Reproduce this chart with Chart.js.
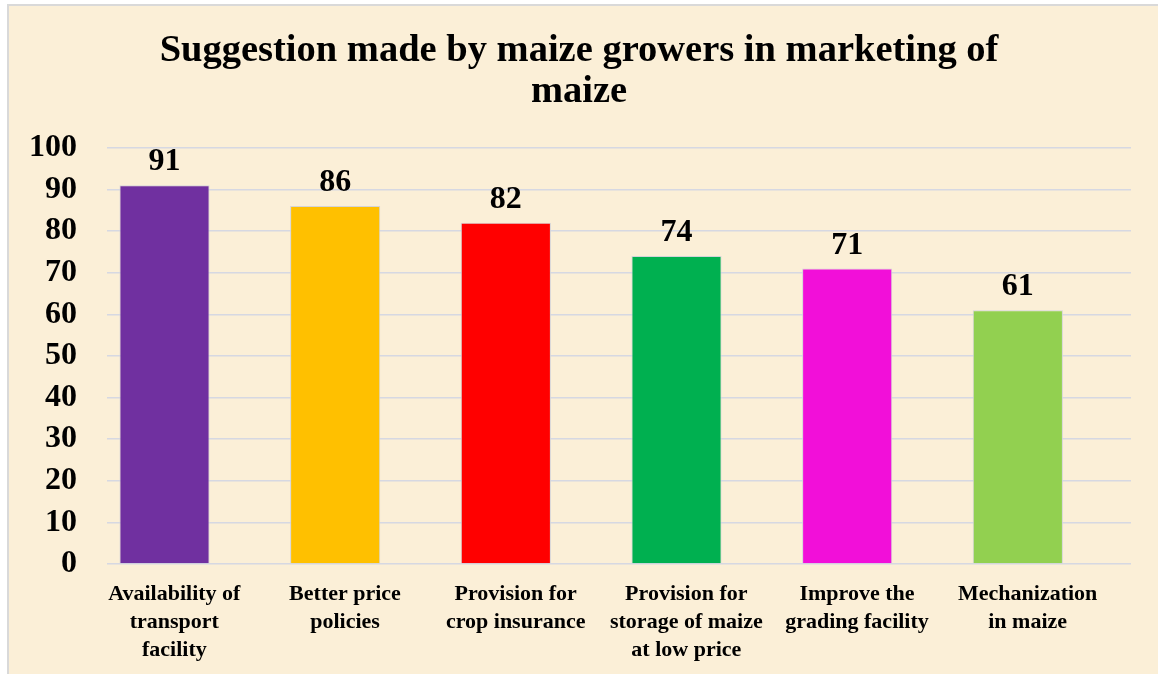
<!DOCTYPE html>
<html>
<head>
<meta charset="utf-8">
<script src="https://cdn.jsdelivr.net/npm/chart.js@4/dist/chart.umd.min.js"></script>
<style>
  html, body { margin: 0; padding: 0; background: #ffffff; }
  #wrap { position: absolute; left: 0; top: 0; width: 1158px; height: 674px; }
</style>
</head>
<body>
<div id="wrap"><canvas id="c" width="1158" height="674"></canvas></div>
<script>
// ---- Data ----
const categories = [
  ["Availability of", "transport", "facility"],
  ["Better price", "policies"],
  ["Provision for", "crop insurance"],
  ["Provision for", "storage of maize", "at low price"],
  ["Improve the", "grading facility"],
  ["Mechanization", "in maize"]
];
const values = [91, 86, 82, 74, 71, 61];
const spacerValues = [null, null, null, null, null, null];
const barColors = ["#7030a0", "#ffc000", "#ff0000", "#00b050", "#f20fd9", "#92d050"];
const yTicks = { min: 0, max: 100, step: 10 };
const titleLines = ["Suggestion made by maize growers in marketing of", "maize"];

const FONT = "'Liberation Serif', 'Times New Roman', Times, serif";

const frameBg = {
  id: 'frameBg',
  beforeDraw(chart) {
    const ctx = chart.ctx;
    ctx.save();
    ctx.fillStyle = '#ffffff';
    ctx.fillRect(0, 0, chart.width, chart.height);
    ctx.fillStyle = '#fbefd7';
    ctx.fillRect(8, 6, chart.width - 8, chart.height - 6);
    ctx.strokeStyle = '#d9d9d9';
    ctx.lineWidth = 2;
    ctx.beginPath();
    ctx.moveTo(8, chart.height);
    ctx.lineTo(8, 5);
    ctx.lineTo(chart.width, 5);
    ctx.stroke();
    ctx.restore();
  }
};

const valueLabels = {
  id: 'valueLabels',
  afterDatasetsDraw(chart) {
    const ctx = chart.ctx;
    const meta = chart.getDatasetMeta(0);
    ctx.save();
    ctx.font = "bold 32px " + FONT;
    ctx.fillStyle = '#000000';
    ctx.textAlign = 'center';
    ctx.textBaseline = 'alphabetic';
    meta.data.forEach((bar, i) => {
      ctx.fillText(String(values[i]), bar.x, bar.y - 15);
    });
    ctx.restore();
  }
};

new Chart(document.getElementById('c'), {
  type: 'bar',
  data: {
    labels: categories,
    datasets: [
      {
        data: values,
        backgroundColor: barColors,
        borderColor: '#d4d4d8',
        borderWidth: 1
      },
      {
        data: spacerValues,
        backgroundColor: 'rgba(0,0,0,0)'
      }
    ]
  },
  options: {
    responsive: false,
    animation: false,
    devicePixelRatio: 1,
    categoryPercentage: 0.652,
    barPercentage: 1.62,
    layout: { padding: { left: 27, right: 27, top: 0, bottom: 0 } },
    plugins: {
      legend: { display: false },
      tooltip: { enabled: false },
      title: {
        display: true,
        text: titleLines,
        color: '#000000',
        font: { family: FONT, size: 38.5, weight: 'bold', lineHeight: 1.05 },
        padding: { top: 31, bottom: 36 }
      }
    },
    scales: {
      x: {
        grid: { display: false, drawTicks: false },
        border: { display: false },
        ticks: {
          color: '#000000',
          font: { family: FONT, size: 22, weight: 'bold', lineHeight: 1.27 },
          padding: 16,
          maxRotation: 0,
          autoSkip: false,
          labelOffset: -18
        },
        afterFit(scale) { scale.height = 110; }
      },
      y: {
        min: yTicks.min,
        max: yTicks.max,
        grid: { color: '#d6d8e2', lineWidth: 1.5, drawTicks: false },
        border: { display: false },
        ticks: {
          stepSize: yTicks.step,
          color: '#000000',
          font: { family: FONT, size: 32, weight: 'bold' },
          padding: 30
        },
        afterFit(scale) { scale.width = 80; }
      }
    }
  },
  plugins: [frameBg, valueLabels]
});
</script>
</body>
</html>
